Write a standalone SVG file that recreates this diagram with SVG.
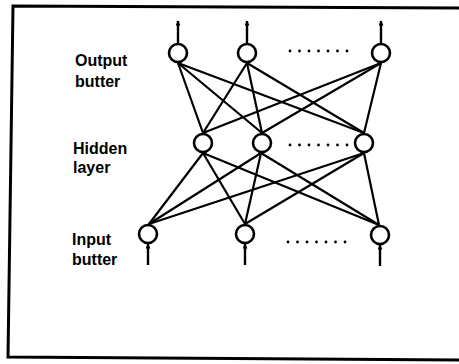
<svg xmlns="http://www.w3.org/2000/svg" width="459" height="364" viewBox="0 0 459 364">
<defs>
<style>
.node{fill:#fff;stroke:#000;stroke-width:2.6}
.edge{stroke:#000;stroke-width:2.2;fill:none;stroke-linecap:round}
.io{stroke:#000;stroke-width:2.4;fill:none}
.lbl{font-family:"Liberation Sans",Arial,sans-serif;font-weight:bold;font-size:16px;fill:#000}
.dot{fill:#000}
.frame{stroke:#000;stroke-width:3;fill:none}
</style>
<marker id="ah" viewBox="0 0 10 10" refX="9" refY="5" markerWidth="7" markerHeight="5" orient="auto" markerUnits="userSpaceOnUse">
<path d="M0,0 L10,5 L0,10 Z" fill="#000"/>
</marker>
</defs>
<rect width="459" height="364" fill="#fff"/>
<path class="frame" d="M459,8 L13,6 L8,357 L459,360"/>
<g id="labels">
<text class="lbl" x="75" y="66">Output</text>
<text class="lbl" x="75" y="87">butter</text>
<text class="lbl" x="73" y="154">Hidden</text>
<text class="lbl" x="73" y="173">layer</text>
<text class="lbl" x="72" y="245">Input</text>
<text class="lbl" x="72" y="265">butter</text>
</g>
<g id="connectors">
<g class="edge">
<line x1="178" y1="63" x2="203" y2="133"/>
<line x1="178" y1="63" x2="262" y2="133"/>
<line x1="178" y1="63" x2="364" y2="133"/>
<line x1="247" y1="63" x2="203" y2="133"/>
<line x1="247" y1="63" x2="262" y2="133"/>
<line x1="247" y1="63" x2="364" y2="133"/>
<line x1="381" y1="63" x2="203" y2="133"/>
<line x1="381" y1="63" x2="262" y2="133"/>
<line x1="381" y1="63" x2="364" y2="133"/>
<line x1="203" y1="153" x2="149" y2="224"/>
<line x1="203" y1="153" x2="245" y2="224"/>
<line x1="203" y1="153" x2="379" y2="225"/>
<line x1="261" y1="153" x2="149" y2="224"/>
<line x1="261" y1="153" x2="245" y2="224"/>
<line x1="261" y1="153" x2="379" y2="225"/>
<line x1="364" y1="153" x2="149" y2="224"/>
<line x1="364" y1="153" x2="245" y2="224"/>
<line x1="364" y1="153" x2="379" y2="225"/>
</g>
<g class="io">
<line x1="178" y1="43" x2="178" y2="21" marker-end="url(#ah)"/>
<line x1="247" y1="43" x2="247" y2="21" marker-end="url(#ah)"/>
<line x1="381" y1="43" x2="381" y2="21" marker-end="url(#ah)"/>
<line x1="148" y1="265" x2="148" y2="244" marker-end="url(#ah)"/>
<line x1="245" y1="265" x2="245" y2="244" marker-end="url(#ah)"/>
<line x1="380" y1="266" x2="380" y2="245" marker-end="url(#ah)"/>
</g>
</g>
<g id="out1"><circle class="node" cx="178" cy="53" r="9"/></g>
<g id="out2"><circle class="node" cx="247" cy="53" r="9"/></g>
<g id="out3"><circle class="node" cx="381" cy="53" r="9"/></g>
<g id="hid1"><circle class="node" cx="203" cy="143" r="9"/></g>
<g id="hid2"><circle class="node" cx="262" cy="143" r="9"/></g>
<g id="hid3"><circle class="node" cx="364" cy="143" r="9"/></g>
<g id="in1"><circle class="node" cx="148" cy="234" r="9"/></g>
<g id="in2"><circle class="node" cx="245" cy="234" r="9"/></g>
<g id="in3"><circle class="node" cx="380" cy="235" r="9"/></g>
<g id="ellipses" class="dot">
<circle cx="290" cy="51" r="1.4"/><circle cx="299.5" cy="51" r="1.4"/><circle cx="309" cy="51" r="1.4"/><circle cx="318.5" cy="51" r="1.4"/><circle cx="328" cy="51" r="1.4"/><circle cx="337.5" cy="51" r="1.4"/><circle cx="347" cy="51" r="1.4"/>
<circle cx="290" cy="145" r="1.4"/><circle cx="299.5" cy="145" r="1.4"/><circle cx="309" cy="145" r="1.4"/><circle cx="318.5" cy="145" r="1.4"/><circle cx="328" cy="145" r="1.4"/><circle cx="337.5" cy="145" r="1.4"/><circle cx="347" cy="145" r="1.4"/>
<circle cx="288" cy="242" r="1.4"/><circle cx="297.5" cy="242" r="1.4"/><circle cx="307" cy="242" r="1.4"/><circle cx="316.5" cy="242" r="1.4"/><circle cx="326" cy="242" r="1.4"/><circle cx="335.5" cy="242" r="1.4"/><circle cx="345" cy="242" r="1.4"/>
</g>
</svg>
